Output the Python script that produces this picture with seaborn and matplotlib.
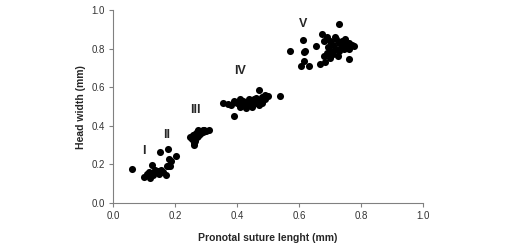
import pandas as pd
import matplotlib
matplotlib.use("Agg")
import matplotlib.pyplot as plt
import seaborn as sns

# pronotal suture length (mm) and head width (mm), per instar
inst1_x = [0.06, 0.10, 0.11, 0.115, 0.12, 0.125, 0.13, 0.135, 0.14, 0.145, 0.15, 0.155, 0.16, 0.125, 0.152, 0.12]
inst1_y = [0.175, 0.137, 0.15, 0.16, 0.14, 0.155, 0.145, 0.17, 0.16, 0.165, 0.15, 0.17, 0.16, 0.195, 0.264, 0.13]
inst2_x = [0.171, 0.178, 0.182, 0.186, 0.178, 0.203, 0.175, 0.185]
inst2_y = [0.147, 0.19, 0.23, 0.22, 0.282, 0.244, 0.19, 0.19]
inst3_x = [0.25, 0.255, 0.26, 0.26, 0.265, 0.265, 0.27, 0.27, 0.275, 0.275, 0.28, 0.28,
           0.285, 0.29, 0.295, 0.30, 0.31, 0.26, 0.262, 0.268, 0.272, 0.278, 0.258, 0.29]
inst3_y = [0.34, 0.33, 0.35, 0.30, 0.36, 0.32, 0.34, 0.37, 0.35, 0.38, 0.36, 0.37,
           0.37, 0.38, 0.38, 0.375, 0.38, 0.31, 0.345, 0.355, 0.36, 0.365, 0.355, 0.37]
inst4_x = [0.355, 0.37, 0.38, 0.39, 0.40, 0.41, 0.41, 0.42, 0.42, 0.43, 0.43, 0.44, 0.44,
           0.45, 0.45, 0.46, 0.46, 0.47, 0.47, 0.48, 0.48, 0.49, 0.49, 0.50, 0.472, 0.54, 0.39,
           0.415, 0.435, 0.455]
inst4_y = [0.52, 0.515, 0.51, 0.53, 0.52, 0.54, 0.50, 0.53, 0.51, 0.52, 0.495, 0.54, 0.51,
           0.53, 0.50, 0.52, 0.545, 0.51, 0.53, 0.55, 0.52, 0.54, 0.56, 0.555, 0.584, 0.556, 0.449,
           0.525, 0.515, 0.54]
inst5_x = [0.571, 0.606, 0.614, 0.617, 0.617, 0.632, 0.655, 0.668, 0.675, 0.68, 0.69, 0.69,
           0.70, 0.70, 0.71, 0.71, 0.72, 0.72, 0.73, 0.73, 0.74, 0.74, 0.75, 0.75, 0.76, 0.76,
           0.77, 0.777, 0.76, 0.73, 0.685, 0.695, 0.705, 0.715, 0.725, 0.745, 0.62, 0.68]
inst5_y = [0.788, 0.712, 0.847, 0.782, 0.734, 0.708, 0.814, 0.722, 0.874, 0.76, 0.86, 0.78,
           0.84, 0.75, 0.82, 0.77, 0.85, 0.80, 0.83, 0.79, 0.84, 0.81, 0.82, 0.85, 0.80, 0.83,
           0.82, 0.812, 0.745, 0.926, 0.73, 0.81, 0.79, 0.86, 0.76, 0.80, 0.79, 0.84]

stage_labels = ["I", "II", "III", "IV", "V"]
label_x = [0.10, 0.173, 0.265, 0.41, 0.614]
label_y = [0.27, 0.354, 0.48, 0.684, 0.93]

df = pd.DataFrame({
    "x": inst1_x + inst2_x + inst3_x + inst4_x + inst5_x,
    "y": inst1_y + inst2_y + inst3_y + inst4_y + inst5_y,
})

sns.set_style("white")
plt.rcParams["font.family"] = ["Liberation Sans", "DejaVu Sans"]

fig = plt.figure(figsize=(5.28, 2.45), dpi=100)
ax = fig.add_axes([0.214, 0.171, 0.587, 0.788])

sns.scatterplot(data=df, x="x", y="y", ax=ax, color="black", s=26,
                edgecolor="black", linewidth=0)

for lab, lx, ly in zip(stage_labels, label_x, label_y):
    ax.text(lx, ly, lab, ha="center", va="center", fontsize=9, fontweight="bold")

ax.set_xlim(0, 1.0)
ax.set_ylim(0, 1.0)
ticks = [0.0, 0.2, 0.4, 0.6, 0.8, 1.0]
ax.set_xticks(ticks)
ax.set_yticks(ticks)
ax.set_xticklabels([f"{t:.1f}" for t in ticks])
ax.set_yticklabels([f"{t:.1f}" for t in ticks])
ax.tick_params(axis="both", direction="out", length=3, width=0.8, color="#808080",
               labelsize=7, labelcolor="#333333", pad=3, bottom=True, left=True)
for side in ["top", "right"]:
    ax.spines[side].set_visible(False)
for side in ["left", "bottom"]:
    ax.spines[side].set_color("#808080")
    ax.spines[side].set_linewidth(0.8)

ax.set_xlabel("Pronotal suture lenght (mm)", fontsize=7.5, fontweight="bold", labelpad=8)
ax.set_ylabel("Head width (mm)", fontsize=7.5, fontweight="bold", labelpad=4)

fig.savefig("out.png", dpi=100)
